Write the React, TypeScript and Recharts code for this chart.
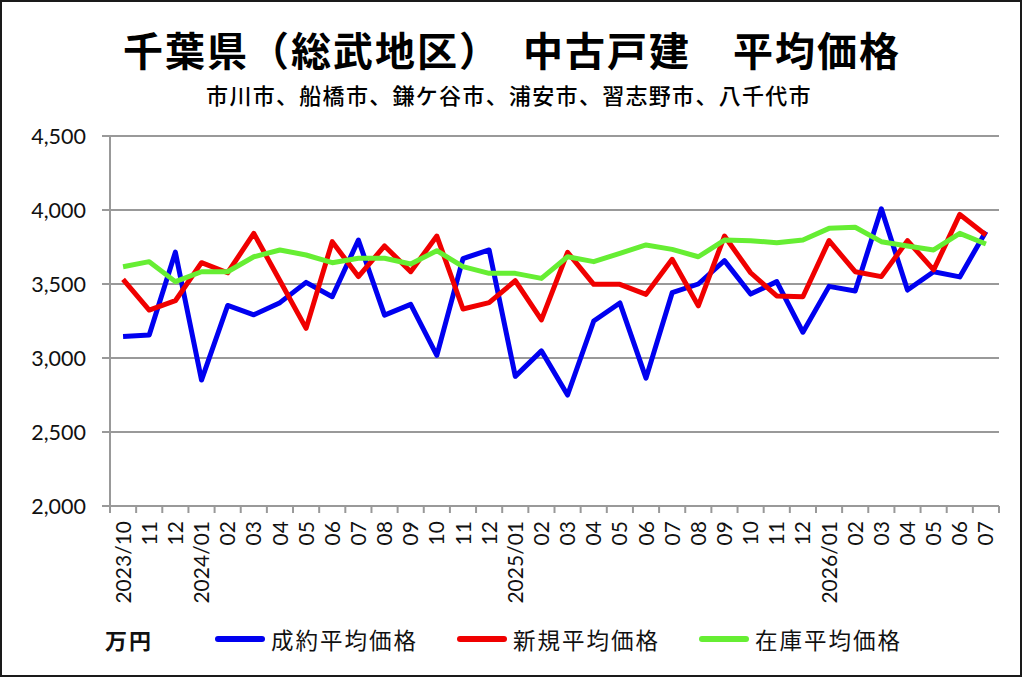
import React from 'react';
import { LineChart, Line, XAxis, YAxis, CartesianGrid, Legend } from 'recharts';

const months = [
  '2023/10', '11', '12',
  '2024/01', '02', '03', '04', '05', '06', '07', '08', '09', '10', '11', '12',
  '2025/01', '02', '03', '04', '05', '06', '07', '08', '09', '10', '11', '12',
  '2026/01', '02', '03', '04', '05', '06', '07',
];

// 成約平均価格
const contracted = [
  3145, 3155, 3715, 2851, 3355, 3292, 3374, 3511, 3414, 3797, 3290, 3362,
  3018, 3672, 3730, 2876, 3048, 2750, 3250, 3372, 2864, 3441, 3500, 3658,
  3432, 3516, 3174, 3484, 3453, 4008, 3459, 3583, 3548, 3855,
];

// 新規平均価格
const newListing = [
  3532, 3324, 3387, 3644, 3576, 3842, 3522, 3200, 3786, 3550, 3757, 3583,
  3824, 3331, 3374, 3522, 3257, 3714, 3498, 3498, 3430, 3667, 3353, 3824,
  3576, 3419, 3414, 3793, 3583, 3550, 3793, 3595, 3970, 3831,
];

// 在庫平均価格
const inventory = [
  3617, 3651, 3516, 3583, 3583, 3684, 3730, 3696, 3644, 3674, 3674, 3635,
  3725, 3617, 3572, 3572, 3538, 3684, 3651, 3707, 3764, 3734, 3684, 3797,
  3793, 3779, 3797, 3876, 3883, 3786, 3757, 3730, 3842, 3770,
];

const yTicks = [2000, 2500, 3000, 3500, 4000, 4500];

const seriesInfo = [
  { key: 'contracted', name: '成約平均価格', color: '#0000F0' },
  { key: 'newListing', name: '新規平均価格', color: '#F00000' },
  { key: 'inventory', name: '在庫平均価格', color: '#66EE33' },
];

const data = months.map((m, i) => ({
  idx: i,
  month: m,
  contracted: contracted[i],
  newListing: newListing[i],
  inventory: inventory[i],
}));

const TICK_FONT = 'Lato, "Noto Sans", sans-serif';
const CJK_FONT = '"Noto Sans CJK JP", "Noto Sans", sans-serif';
const HALF_STEP = 13.07;

const XTick = (props: any) => {
  const { x, y, payload, index } = props;
  const label = months[payload.value] ?? String(payload.value);
  const isLast = index === months.length - 1;
  return (
    <g transform={`translate(${x},${y})`}>
      <line x1={-HALF_STEP} y1={0} x2={-HALF_STEP} y2={7} stroke="#999" strokeWidth={2} />
      {isLast && <line x1={HALF_STEP} y1={0} x2={HALF_STEP} y2={7} stroke="#999" strokeWidth={2} />}
      <text
        transform="rotate(-90)"
        x={-15}
        y={0}
        dy="0.36em"
        textAnchor="end"
        fontFamily={TICK_FONT}
        fontSize={21}
        fill="#111"
      >
        {label}
      </text>
    </g>
  );
};

const LegendContent = () => {
  const items = [
    { left: 215, textLeft: 271, ...seriesInfo[0] },
    { left: 457, textLeft: 513, ...seriesInfo[1] },
    { left: 699, textLeft: 755, ...seriesInfo[2] },
  ];
  return (
    <div style={{ position: 'relative', width: 1024, height: 40 }}>
      <div
        style={{
          position: 'absolute',
          left: 105,
          top: 4,
          fontFamily: CJK_FONT,
          fontWeight: 700,
          fontSize: 22,
          letterSpacing: 2,
          lineHeight: '30px',
          color: '#111',
        }}
      >
        万円
      </div>
      {items.map((it) => (
        <React.Fragment key={it.key}>
          <div
            style={{
              position: 'absolute',
              left: it.left,
              top: 16,
              width: 50,
              height: 6,
              borderRadius: 3,
              background: it.color,
            }}
          />
          <div
            style={{
              position: 'absolute',
              left: it.textLeft,
              top: 4,
              fontFamily: CJK_FONT,
              fontSize: 22.5,
              letterSpacing: 2,
              lineHeight: '30px',
              color: '#111',
              whiteSpace: 'nowrap',
            }}
          >
            {it.name}
          </div>
        </React.Fragment>
      ))}
    </div>
  );
};

export default function App() {
  return (
    <div
      style={{
        position: 'absolute',
        left: 0,
        top: 0,
        width: 1024,
        height: 678,
        background: '#fff',
        overflow: 'hidden',
      }}
    >
      <div
        style={{
          position: 'absolute',
          left: 0,
          top: 0,
          width: 1022,
          height: 677,
          border: '2px solid #1a1a1a',
          boxSizing: 'border-box',
          pointerEvents: 'none',
          zIndex: 2,
        }}
      />
      <div
        style={{
          position: 'absolute',
          left: 0,
          top: 26,
          width: 1024,
          textAlign: 'center',
          fontFamily: CJK_FONT,
          fontWeight: 700,
          fontSize: 40,
          letterSpacing: 2,
          lineHeight: '46px',
          color: '#000',
          whiteSpace: 'nowrap',
        }}
      >
        千葉県（総武地区）　中古戸建　平均価格
      </div>
      <div
        style={{
          position: 'absolute',
          left: 0,
          top: 79,
          width: 1018,
          textAlign: 'center',
          fontFamily: CJK_FONT,
          fontWeight: 500,
          fontSize: 22,
          letterSpacing: 1.3,
          lineHeight: '30px',
          color: '#000',
          whiteSpace: 'nowrap',
        }}
      >
        市川市、船橋市、鎌ケ谷市、浦安市、習志野市、八千代市
      </div>
      <LineChart
        width={1024}
        height={678}
        data={data}
        margin={{ top: 136, right: 25, bottom: 22, left: 30 }}
      >
        <CartesianGrid vertical={false} stroke="#999" strokeWidth={2} />
        <XAxis
          dataKey="idx"
          type="category"
          interval={0}
          padding={{ left: HALF_STEP, right: HALF_STEP }}
          tick={<XTick />}
          tickLine={false}
          tickSize={0}
          tickMargin={0}
          height={110}
          axisLine={{ stroke: '#999', strokeWidth: 2 }}
        />
        <YAxis
          domain={[2000, 4500]}
          ticks={yTicks}
          interval={0}
          width={80}
          tickSize={8}
          tickMargin={16}
          tickFormatter={(v: number) => v.toLocaleString('en-US')}
          tick={{ fontFamily: TICK_FONT, fontSize: 21.5, fill: '#111' }}
          tickLine={{ stroke: '#999', strokeWidth: 2 }}
          axisLine={{ stroke: '#999', strokeWidth: 2 }}
        />
        <Legend
          verticalAlign="bottom"
          content={<LegendContent />}
          wrapperStyle={{ position: 'absolute', left: 0, top: 620, width: 1024, height: 40 }}
        />
        {seriesInfo.map((s) => (
          <Line
            key={s.key}
            type="linear"
            dataKey={s.key}
            name={s.name}
            stroke={s.color}
            strokeWidth={5}
            strokeLinejoin="round"
            dot={false}
            activeDot={false}
            isAnimationActive={false}
          />
        ))}
      </LineChart>
    </div>
  );
}
